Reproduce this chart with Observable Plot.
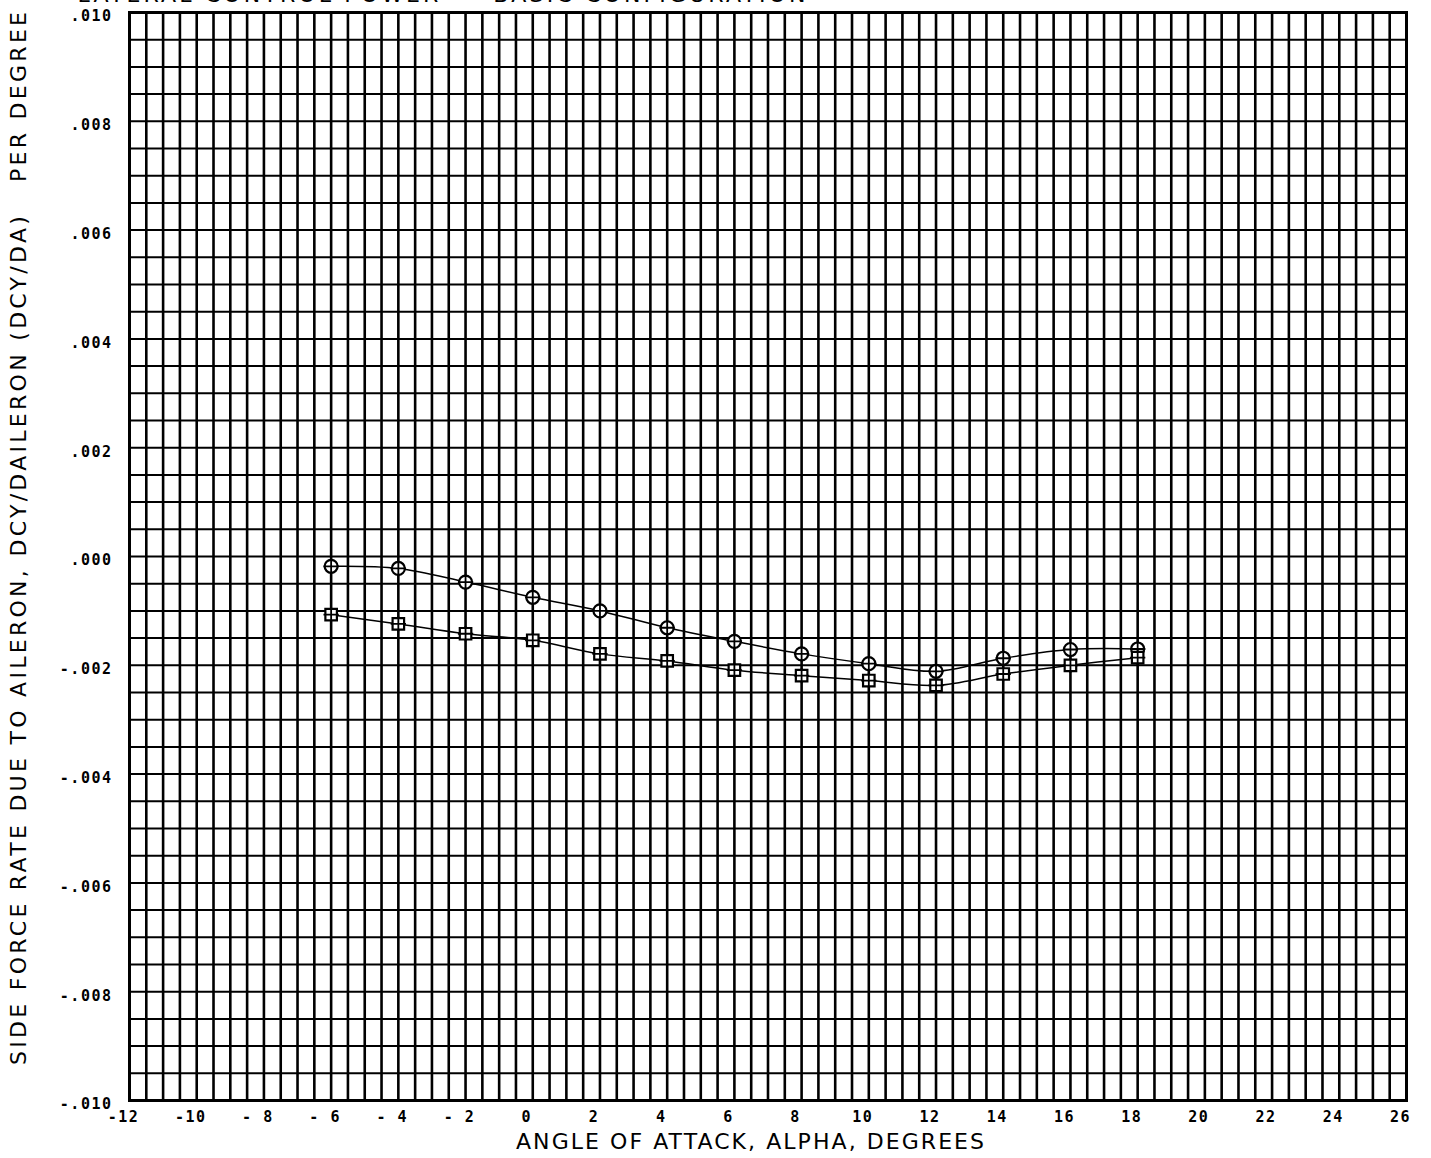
<!DOCTYPE html>
<html><head><meta charset="utf-8">
<script src="https://cdn.jsdelivr.net/npm/d3@7"></script>
<script src="https://cdn.jsdelivr.net/npm/@observablehq/plot@0.6"></script>
<style>
html,body{margin:0;padding:0;background:#fff;overflow:hidden}
#chart{width:1431px;height:1158px}
svg text{white-space:pre}
g[aria-label="y-axis tick label"] text{letter-spacing:1.5px}
g[aria-label="x-axis tick label"] text{letter-spacing:1.5px}
</style>
</head><body><div id="chart"></div>
<script>
// ---- data ----
const alpha = [-6, -4, -2, 0, 2, 4, 6, 8, 10, 12, 14, 16, 18];
const dcyCircle = [-0.00018, -0.00022, -0.00047, -0.00075, -0.00100, -0.00131, -0.00156, -0.00179, -0.00197, -0.00211, -0.00187, -0.00171, -0.00170];
const dcySquare = [-0.00107, -0.00124, -0.00142, -0.00154, -0.00179, -0.00192, -0.00209, -0.00219, -0.00228, -0.00237, -0.00216, -0.00200, -0.00186];
const xTicks = [-12, -10, -8, -6, -4, -2, 0, 2, 4, 6, 8, 10, 12, 14, 16, 18, 20, 22, 24, 26];
const xTickLabels = ["-12", "-10", "- 8", "- 6", "- 4", "- 2", "0", "2", "4", "6", "8", "10", "12", "14", "16", "18", "20", "22", "24", "26"];
const yTicks = [0.010, 0.008, 0.006, 0.004, 0.002, 0.000, -0.002, -0.004, -0.006, -0.008, -0.010];
const yTickLabels = [".010", ".008", ".006", ".004", ".002", ".000", "-.002", "-.004", "-.006", "-.008", "-.010"];
const chartTitle = ["LATERAL CONTROL POWER  -  BASIC CONFIGURATION"];
const xTitle = ["ANGLE OF ATTACK, ALPHA, DEGREES"];
const yTitle = ["SIDE FORCE RATE DUE TO AILERON, DCY/DAILERON (DCY/DA)   PER DEGREE"];

const circles = alpha.map((a, i) => ({alpha: a, dcy: dcyCircle[i]}));
const squares = alpha.map((a, i) => ({alpha: a, dcy: dcySquare[i]}));
const xLab = new Map(xTicks.map((v, i) => [v, xTickLabels[i]]));
const yLab = new Map(yTicks.map((v, i) => [v, yTickLabels[i]]));

const tickFont = {fontSize: 15, fontWeight: "bold", fontFamily: "DejaVu Sans Mono"};

const plot = Plot.plot({
  width: 1431, height: 1158,
  marginLeft: 129, marginRight: 25, marginTop: 12, marginBottom: 58,
  x: {domain: [-12, 26]},
  y: {domain: [-0.010, 0.010]},
  style: {background: "white", fontFamily: "DejaVu Sans", overflow: "visible", color: "black"},
  marks: [
    Plot.gridX({interval: 0.5, stroke: "black", strokeOpacity: 1, strokeWidth: 2.6}),
    Plot.gridY({interval: 0.0005, stroke: "black", strokeOpacity: 1, strokeWidth: 2}),
    Plot.frame({stroke: "black", strokeWidth: 3}),
    Plot.line(circles, {x: "alpha", y: "dcy", curve: "catmull-rom", stroke: "black", strokeWidth: 1.5}),
    Plot.line(squares, {x: "alpha", y: "dcy", curve: "catmull-rom", stroke: "black", strokeWidth: 1.5}),
    Plot.dot(circles, {x: "alpha", y: "dcy", symbol: "circle", r: 6.5, stroke: "black", strokeWidth: 2.2, fill: "white"}),
    Plot.dot(circles, {x: "alpha", y: "dcy", symbol: "plus", r: 5, stroke: "black", strokeWidth: 1.8}),
    Plot.dot(squares, {x: "alpha", y: "dcy", symbol: "square", r: 6.5, stroke: "black", strokeWidth: 2.2, fill: "white"}),
    Plot.dot(squares, {x: "alpha", y: "dcy", symbol: "plus", r: 5, stroke: "black", strokeWidth: 1.8}),
    Plot.axisX(xTicks, {tickFormat: d => xLab.get(d), tickSize: 0, tickPadding: 11, dx: -6, label: null, ...tickFont}),
    Plot.axisY(yTicks, {tickFormat: d => yLab.get(d), tickSize: 0, tickPadding: 17, dy: 4, label: null, ...tickFont}),
    Plot.text(xTitle, {frameAnchor: "bottom", dx: -18, dy: 41, fontSize: 22, textAnchor: "middle", lineAnchor: "middle", className: "ttl-x"}),
    Plot.text(yTitle, {frameAnchor: "left", dx: -111, dy: -18, rotate: -90, fontSize: 22, textAnchor: "middle", lineAnchor: "middle", className: "ttl-y"}),
    Plot.text(chartTitle, {frameAnchor: "top-left", dx: -52, dy: -11, fontSize: 22, textAnchor: "start", lineAnchor: "bottom", className: "ttl-t"})
  ]
});
document.getElementById("chart").appendChild(plot);
const fit = (cls, len) => {
  plot.querySelectorAll(`.${cls} text`).forEach(t => {
    t.setAttribute("textLength", len);
    t.setAttribute("lengthAdjust", "spacing");
  });
};
fit("ttl-x", 468);
fit("ttl-y", 1053);
fit("ttl-t", 728);
</script>
</body></html>
